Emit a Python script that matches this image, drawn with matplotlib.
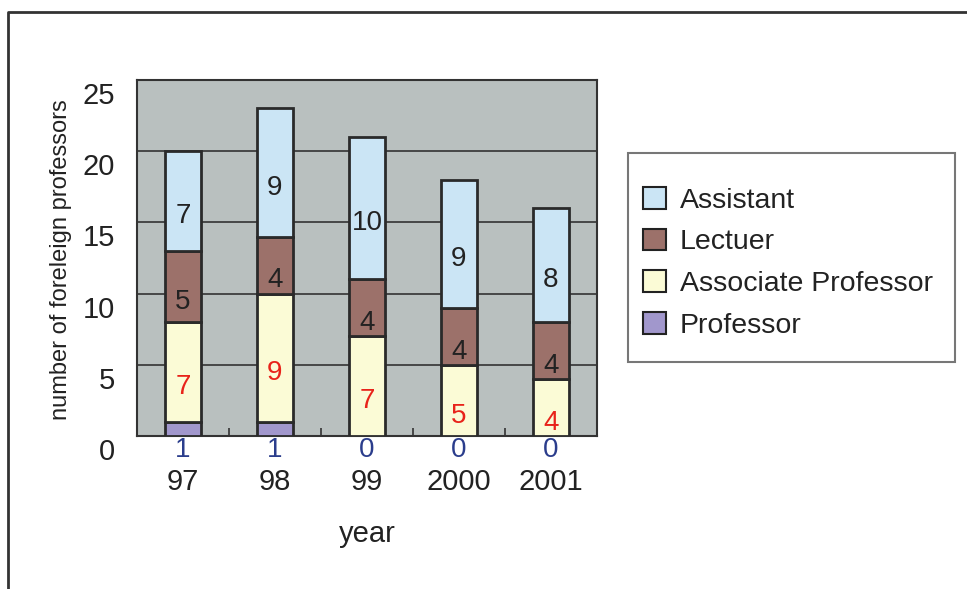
import matplotlib
matplotlib.use("Agg")
import matplotlib.pyplot as plt
import matplotlib.transforms as mtransforms
from matplotlib.patches import Patch, Rectangle
from matplotlib.lines import Line2D
import numpy as np

plt.rcParams['font.family'] = ['Liberation Sans', 'DejaVu Sans']

years = ["97", "98", "99", "2000", "2001"]
professor = [1, 1, 0, 0, 0]
associate = [7, 9, 7, 5, 4]
lecturer = [5, 4, 4, 4, 4]
assistant = [7, 9, 10, 9, 8]

series_names = ["Assistant", "Lectuer", "Associate Professor", "Professor"]
colors = {"Professor": "#a197cc", "Associate Professor": "#fbfbd6",
          "Lectuer": "#9c716a", "Assistant": "#cbe5f5"}
label_colors = {"Associate Professor": "#e8231a", "Lectuer": "#222222", "Assistant": "#222222"}

W, H = 967, 589
fig = plt.figure(figsize=(W / 100, H / 100), dpi=100)
fig.patch.set_facecolor("white")

ax = fig.add_axes([137 / W, 1 - 436 / H, (597 - 137) / W, (436 - 80) / H])
ax.set_facecolor("#b9c0bf")

x = np.arange(len(years))
width = 0.39
stack = [("Professor", professor), ("Associate Professor", associate),
         ("Lectuer", lecturer), ("Assistant", assistant)]
bottom = np.zeros(len(years))
for name, vals in stack:
    vals = np.array(vals, dtype=float)
    ax.bar(x, vals, width, bottom=bottom, color=colors[name], edgecolor="#2a2a2a",
           linewidth=2, zorder=3)
    if name in label_colors:
        for xi, b, v in zip(x, bottom, vals):
            if v > 0:
                off = mtransforms.offset_copy(ax.transData, fig=fig, x=0, y=-11, units="points")
                ax.text(xi, b + v / 2, f"{int(v)}", ha="center", va="center",
                        color=label_colors[name], fontsize=20, transform=off, zorder=4)
    bottom += vals

# professor values below axis
for xi, v in zip(x, professor):
    ax.text(xi, 0, f"{v}", ha="center", va="top", color="#2b3d8c", fontsize=20,
            transform=mtransforms.offset_copy(ax.transData, fig=fig, x=0, y=-1, units="points"),
            clip_on=False)

ax.set_xlim(-0.5, 4.5)
ax.set_ylim(0, 25)
ax.set_yticks([0, 5, 10, 15, 20, 25])
ax.yaxis.grid(True, color="#333333", linewidth=1.2, zorder=1)
ax.set_axisbelow(True)
ax.tick_params(axis="y", length=0, labelsize=21, pad=16, labelcolor="#222222")
for lab in ax.get_yticklabels():
    lab.set_transform(lab.get_transform() + mtransforms.ScaledTranslation(0, -13 / 100, fig.dpi_scale_trans))

ax.set_xticks(x)
ax.set_xticklabels(years)
ax.tick_params(axis="x", length=0, labelsize=21, pad=23, labelcolor="#222222")
ax.set_xticks([0.5, 1.5, 2.5, 3.5], minor=True)
ax.tick_params(axis="x", which="minor", direction="in", length=6, width=1.2, color="#333333")

for s in ax.spines.values():
    s.set_color("#333333")
    s.set_linewidth(1.5)

ax.set_xlabel("year", fontsize=21, labelpad=17, color="#222222")
fig.text(61 / W, 1 - 260 / H, "number of foreleign professors", rotation=90,
         ha="center", va="center", fontsize=17, color="#222222")

# legend frame drawn separately
fig.add_artist(Rectangle((628 / W, 1 - 362 / H), (955 - 628) / W, (362 - 153) / H,
                         transform=fig.transFigure, facecolor="white",
                         edgecolor="#777777", linewidth=1.5))
handles = [Patch(facecolor=colors[n], edgecolor="#222222", linewidth=1.5) for n in series_names]
leg = fig.legend(handles, series_names, loc="upper left",
                 bbox_to_anchor=(643 / W, 1 - 187 / H), fontsize=20.5,
                 frameon=False,
                 handlelength=0.8, handleheight=0.8, handletextpad=0.5,
                 labelspacing=0.52, borderpad=0.0, borderaxespad=0)
for t in leg.get_texts():
    t.set_color("#222222")

# outer frame
fig.add_artist(Line2D([8 / W, 8 / W, 1.0], [0, 1 - 12 / H, 1 - 12 / H],
                      transform=fig.transFigure, color="#333333", linewidth=2))

fig.savefig("out.png", dpi=100)
